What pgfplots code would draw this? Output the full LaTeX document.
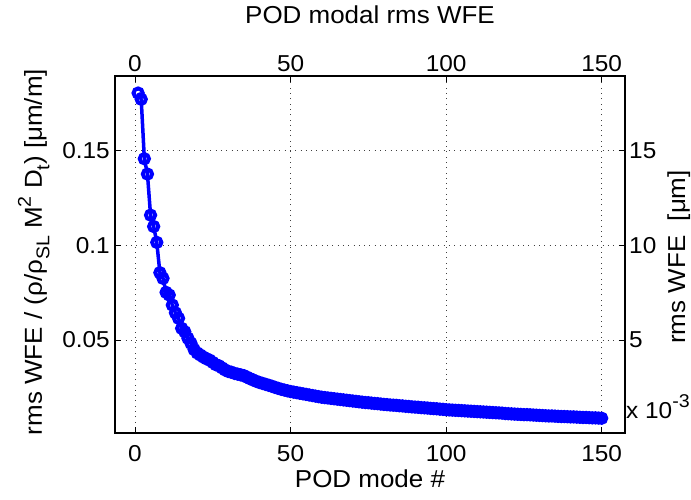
\documentclass[border=0pt]{standalone}
\usepackage{fontspec}
\setmainfont{Liberation Sans}[FakeStretch=1.06]
\usepackage{pgfplots}
\pgfplotsset{compat=1.18}
\usepackage{pgfplotstable}
\newcommand\msub[1]{\raisebox{-0.3em}{\fontsize{18.5}{20}\selectfont #1}}
\newcommand\msup[1]{\raisebox{0.45em}{\fontsize{18.5}{20}\selectfont #1}}
\pgfplotstableread{
x y
1 0.1805
2 0.1772
3 0.1458
4 0.1377
5 0.1160
6 0.1100
7 0.1016
8 0.0856
9 0.0826
10 0.0752
11 0.0738
12 0.0685
13 0.0644
14 0.0615
15 0.0562
16 0.0544
17 0.0510
18 0.0483
19 0.0450
20 0.0432
21 0.0421
22 0.0410
23 0.0401
24 0.0394
25 0.0382
26 0.0370
27 0.0364
28 0.0353
29 0.0342
30 0.0334
31 0.0330
32 0.0324
33 0.0320
34 0.0316
35 0.0312
36 0.0304
37 0.0296
38 0.0289
39 0.0282
40 0.0276
41 0.0271
42 0.0266
43 0.0261
44 0.0256
45 0.0250
46 0.0245
47 0.0240
48 0.0236
49 0.0232
50 0.0228
51 0.0225
52 0.0222
53 0.0219
54 0.0216
55 0.0213
56 0.0210
57 0.0207
58 0.0204
59 0.0201
60 0.0198
61 0.0196
62 0.0194
63 0.0192
64 0.0190
65 0.0188
66 0.0186
67 0.0184
68 0.0182
69 0.0180
70 0.0178
71 0.0176
72 0.0174
73 0.0172
74 0.0170
75 0.0169
76 0.0167
77 0.0165
78 0.0164
79 0.0162
80 0.0160
81 0.0159
82 0.0157
83 0.0156
84 0.0155
85 0.0153
86 0.0152
87 0.0150
88 0.0149
89 0.0147
90 0.0146
91 0.0145
92 0.0143
93 0.0142
94 0.0141
95 0.0139
96 0.0138
97 0.0137
98 0.0135
99 0.0134
100 0.0132
101 0.0131
102 0.0130
103 0.0129
104 0.0128
105 0.0127
106 0.0126
107 0.0125
108 0.0124
109 0.0123
110 0.0122
111 0.0121
112 0.0120
113 0.0119
114 0.0118
115 0.0117
116 0.0116
117 0.0115
118 0.0114
119 0.0112
120 0.0111
121 0.0110
122 0.0109
123 0.0108
124 0.0107
125 0.0106
126 0.0106
127 0.0105
128 0.0104
129 0.0103
130 0.0102
131 0.0101
132 0.0100
133 0.0099
134 0.0099
135 0.0098
136 0.0097
137 0.0096
138 0.0096
139 0.0095
140 0.0094
141 0.0094
142 0.0093
143 0.0092
144 0.0091
145 0.0091
146 0.0090
147 0.0089
148 0.0089
149 0.0088
150 0.0087
}\podtable

\begin{document}
\begin{tikzpicture}
\path[use as bounding box] (-115pt,-66pt) rectangle (576pt,433pt);
\pgfplotsset{
  common/.style={
    scale only axis, width=510pt, height=357pt,
    anchor=south west, at={(0pt,0pt)},
    xmin=-6.43, xmax=157.5, ymin=0.0009, ymax=0.1895,
    xtick={0,50,100,150}, xticklabels={0,50,100,150},
    ytick={0.05,0.1,0.15},
    tick align=inside, major tick length=6pt,
    tick style={black, line width=0.8pt},
    axis line style={black, line width=1.2pt},
    ticklabel style={font=\fontsize{23}{27}\selectfont, inner sep=0pt},
  }
}
\begin{axis}[common,
    xtick pos=bottom, ytick pos=left,
    yticklabels={0.05,0.1,0.15},
    xticklabel style={anchor=north, yshift=-12pt},
    yticklabel style={anchor=east, xshift=-5pt},
    grid=major,
    major grid style={black!75, line width=0.8pt, dash pattern=on 0.8pt off 4.5pt},
  ]
\addplot[color=blue, line width=3.5pt, mark=o, mark size=4.6pt,
  mark options={line width=4pt, solid}] table[x=x,y=y] {\podtable};
\end{axis}
\begin{axis}[common,
    axis x line*=top, axis y line*=right,
    yticklabels={5,10,15},
    xticklabel style={anchor=south, yshift=4pt},
    yticklabel style={anchor=west, xshift=4pt},
  ]
\end{axis}
\node[anchor=base, font=\fontsize{24.5}{28}\selectfont] at (255pt,409pt) {POD modal rms WFE};
\node[anchor=base, font=\fontsize{24.5}{28}\selectfont] at (255pt,-54pt) {POD mode \#};
\node[anchor=base, rotate=90, font=\fontsize{24.5}{28}\selectfont] at (-73pt,181pt)
  {rms WFE / (ρ/ρ\msub{SL} M\msup{2} D\msub{t}) [μm/m]};
\node[anchor=base, rotate=90, font=\fontsize{24.5}{28}\selectfont] at (570pt,176pt)
  {rms WFE\ \ [μm]};
\node[anchor=base west, inner sep=0pt, font=\fontsize{23}{27}\selectfont] at (511pt,15pt)
  {x 10\msup{-3}};
\end{tikzpicture}
\end{document}
